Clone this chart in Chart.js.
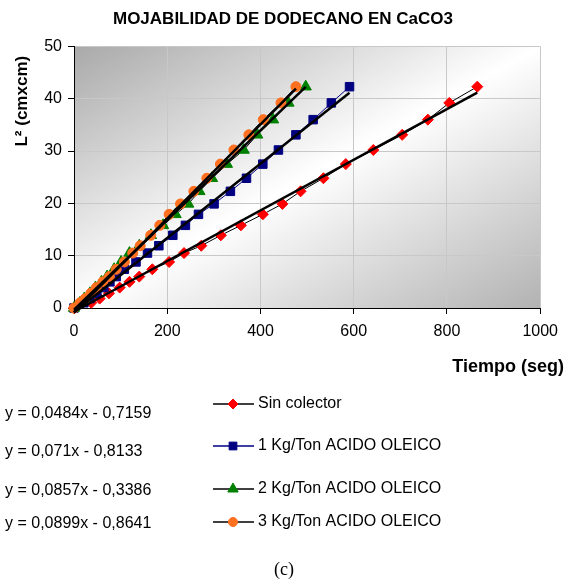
<!DOCTYPE html>
<html>
<head>
<meta charset="utf-8">
<script src="https://cdn.jsdelivr.net/npm/chart.js@4.4.1/dist/chart.umd.min.js"></script>
<style>
html,body{margin:0;padding:0;background:#ffffff;}
#wrap{position:relative;width:566px;height:588px;}
canvas{display:block;}
</style>
</head>
<body>
<div id="wrap"><canvas id="chart" width="566" height="588"></canvas></div>
<script>
// ---- text ----
const chartTitle = 'MOJABILIDAD DE DODECANO EN CaCO3';
const xAxisTitle = 'Tiempo (seg)';
const yAxisTitle = 'L² (cmxcm)';
const caption = '(c)';

// ---- tick labels ----
const xTicks = [0, 200, 400, 600, 800, 1000];
const yTicks = [0, 10, 20, 30, 40, 50];

// ---- series ----
const seriesNames = ['Sin colector', '1 Kg/Ton ACIDO OLEICO', '2 Kg/Ton ACIDO OLEICO', '3 Kg/Ton ACIDO OLEICO'];
const l2Values = [0, 1.0, 1.8, 2.8, 3.9, 5.0, 6.0, 7.4, 8.8, 10.5, 11.9, 13.9, 15.8, 17.9, 19.9, 22.3, 24.8, 27.5, 30.2, 33.1, 36.0, 39.2, 42.3];
const tiempoSinColector = [0, 37, 55, 75, 98, 119, 140, 168, 204, 236, 273, 315, 358, 405, 447, 486, 535, 583, 642, 704, 759, 805, 865];
const tiempo1Kg = [0, 21, 34, 49, 64, 77, 90.5, 108, 133, 157.6, 182, 212, 239, 267, 300.5, 335.5, 370, 405, 438.5, 476, 513, 552, 591];
const tiempo2Kg = [0, 13, 22, 34, 46, 59, 71, 86, 101, 119, 140, 165, 191, 218, 245, 269, 296, 328, 364, 393, 427, 460, 497];
const tiempo3Kg = [0, 13, 24, 36, 48, 62, 76, 90.5, 108, 126, 142, 164.6, 184, 204, 228.5, 257, 285, 314, 343, 375, 406, 444, 476];

// ---- linear trend lines (equations shown on the chart) ----
const trendSlopes = [0.0484, 0.071, 0.0857, 0.0899];
const trendIntercepts = [-0.7159, -0.8133, -0.3386, -0.8641];
const trendLabels = ['y = 0,0484x - 0,7159', 'y = 0,071x - 0,8133', 'y = 0,0857x - 0,3386', 'y = 0,0899x - 0,8641'];

// ---- styles ----
const FONT = "'Liberation Sans', Arial, Helvetica, sans-serif";
const seriesTimes = [tiempoSinColector, tiempo1Kg, tiempo2Kg, tiempo3Kg];
const markerColors = ['#ff0000', '#000080', '#008000', '#ff7020'];
const lineColors = ['#000000', '#000080', '#000000', '#000000'];
const markerStyles = ['rectRot', 'rect', 'triangle', 'circle'];
const markerRadii = [5.5, 6, 6.5, 5];
const drawOrders = [4, 3, 2, 1];

const datasets = [];
seriesTimes.forEach((times, i) => {
  datasets.push({
    label: seriesNames[i],
    data: times.map((t, k) => ({x: t, y: l2Values[k]})),
    showLine: true,
    borderColor: lineColors[i],
    borderWidth: 1,
    pointStyle: markerStyles[i],
    pointRadius: markerRadii[i],
    pointBackgroundColor: markerColors[i],
    pointBorderColor: markerColors[i],
    pointBorderWidth: 1,
    order: drawOrders[i],
    clip: false
  });
});
seriesTimes.forEach((times, i) => {
  const x0 = Math.min(...times), x1 = Math.max(...times);
  datasets.push({
    label: trendLabels[i],
    data: [x0, x1].map(x => ({x: x, y: trendSlopes[i] * x + trendIntercepts[i]})),
    showLine: true,
    borderColor: '#000000',
    borderWidth: 2.5,
    pointRadius: 0,
    order: 0,
    clip: false
  });
});

const plotBackground = {
  id: 'plotBackground',
  beforeDraw(chart) {
    const {ctx, chartArea: a} = chart;
    ctx.save();
    ctx.translate(a.left, a.top);
    ctx.scale(a.right - a.left, a.bottom - a.top);
    const g = ctx.createLinearGradient(0, 0, 1, 1);
    g.addColorStop(0, '#a9a9a9');
    g.addColorStop(0.5, '#ffffff');
    g.addColorStop(1, '#b2b2b2');
    ctx.fillStyle = g;
    ctx.fillRect(0, 0, 1, 1);
    ctx.restore();
  }
};

function drawMarker(ctx, style, r, x, y, color) {
  ctx.save();
  ctx.fillStyle = color;
  ctx.strokeStyle = color;
  ctx.lineWidth = 1;
  if (Chart.helpers && Chart.helpers.drawPoint) {
    Chart.helpers.drawPoint(ctx, {pointStyle: style, radius: r, rotation: 0, borderWidth: 1}, x, y);
  } else {
    ctx.beginPath();
    ctx.arc(x, y, r, 0, Math.PI * 2);
    ctx.fill();
  }
  ctx.restore();
}

const extras = {
  id: 'extras',
  afterDraw(chart) {
    const ctx = chart.ctx;
    ctx.save();
    ctx.fillStyle = '#000';
    // x axis title
    ctx.font = 'bold 18px ' + FONT;
    ctx.textAlign = 'right';
    ctx.textBaseline = 'middle';
    ctx.fillText(xAxisTitle, 564, 367);
    // equations
    ctx.font = '16px ' + FONT;
    ctx.textAlign = 'left';
    const eqY = [414, 452, 491, 524];
    trendLabels.forEach((t, i) => ctx.fillText(t, 5, eqY[i]));
    // legend
    const legY = [404, 446, 489, 522];
    seriesNames.forEach((n, i) => {
      ctx.strokeStyle = lineColors[i];
      ctx.lineWidth = 1.3;
      ctx.beginPath();
      ctx.moveTo(213, legY[i]);
      ctx.lineTo(254, legY[i]);
      ctx.stroke();
      drawMarker(ctx, markerStyles[i], markerRadii[i] - 0.5, 233, legY[i], markerColors[i]);
      ctx.fillStyle = '#000';
      ctx.font = '16px ' + FONT;
      ctx.textAlign = 'left';
      ctx.fillText(n, 258, legY[i]);
    });
    // caption
    ctx.font = "18px 'Liberation Serif', 'Times New Roman', serif";
    ctx.textAlign = 'center';
    ctx.fillText(caption, 284, 570);
    ctx.restore();
  }
};

Chart.defaults.font.family = FONT;
Chart.defaults.color = '#000';

new Chart(document.getElementById('chart'), {
  type: 'scatter',
  data: {datasets},
  options: {
    responsive: false,
    devicePixelRatio: 1,
    animation: false,
    events: [],
    layout: {padding: {left: 0, right: 0, top: 0, bottom: 210}},
    plugins: {
      legend: {display: false},
      tooltip: {enabled: false},
      title: {
        display: true,
        text: chartTitle,
        color: '#000',
        font: {size: 17, weight: 'bold', family: FONT},
        padding: {top: 9, bottom: 17}
      }
    },
    scales: {
      x: {
        type: 'linear',
        min: xTicks[0],
        max: xTicks[xTicks.length - 1],
        afterBuildTicks: s => { s.ticks = xTicks.map(v => ({value: v})); },
        afterFit: s => { s.height = 70; },
        ticks: {color: '#000', font: {size: 16}, padding: 8, callback: v => String(v)},
        grid: {color: '#c8c8c8', lineWidth: 1, tickColor: '#000', tickLength: 6},
        border: {color: '#000', width: 1}
      },
      y: {
        type: 'linear',
        min: yTicks[0],
        max: yTicks[yTicks.length - 1],
        afterBuildTicks: s => { s.ticks = yTicks.map(v => ({value: v})); },
        afterFit: s => { s.width = 74; },
        ticks: {color: '#000', font: {size: 16}, padding: 6, callback: v => String(v)},
        grid: {color: '#c8c8c8', lineWidth: 1, tickColor: '#000', tickLength: 6},
        border: {color: '#000', width: 1},
        title: {display: true, text: yAxisTitle + '  ', align: 'end', color: '#000', font: {size: 17, weight: 'bold'}, padding: {top: 12, bottom: 0}}
      },
      rightMargin: {
        type: 'linear',
        position: 'right',
        display: true,
        afterFit: s => { s.width = 21; },
        ticks: {display: false},
        grid: {display: false, drawTicks: false},
        border: {display: false}
      }
    }
  },
  plugins: [plotBackground, extras]
});
</script>
</body>
</html>
